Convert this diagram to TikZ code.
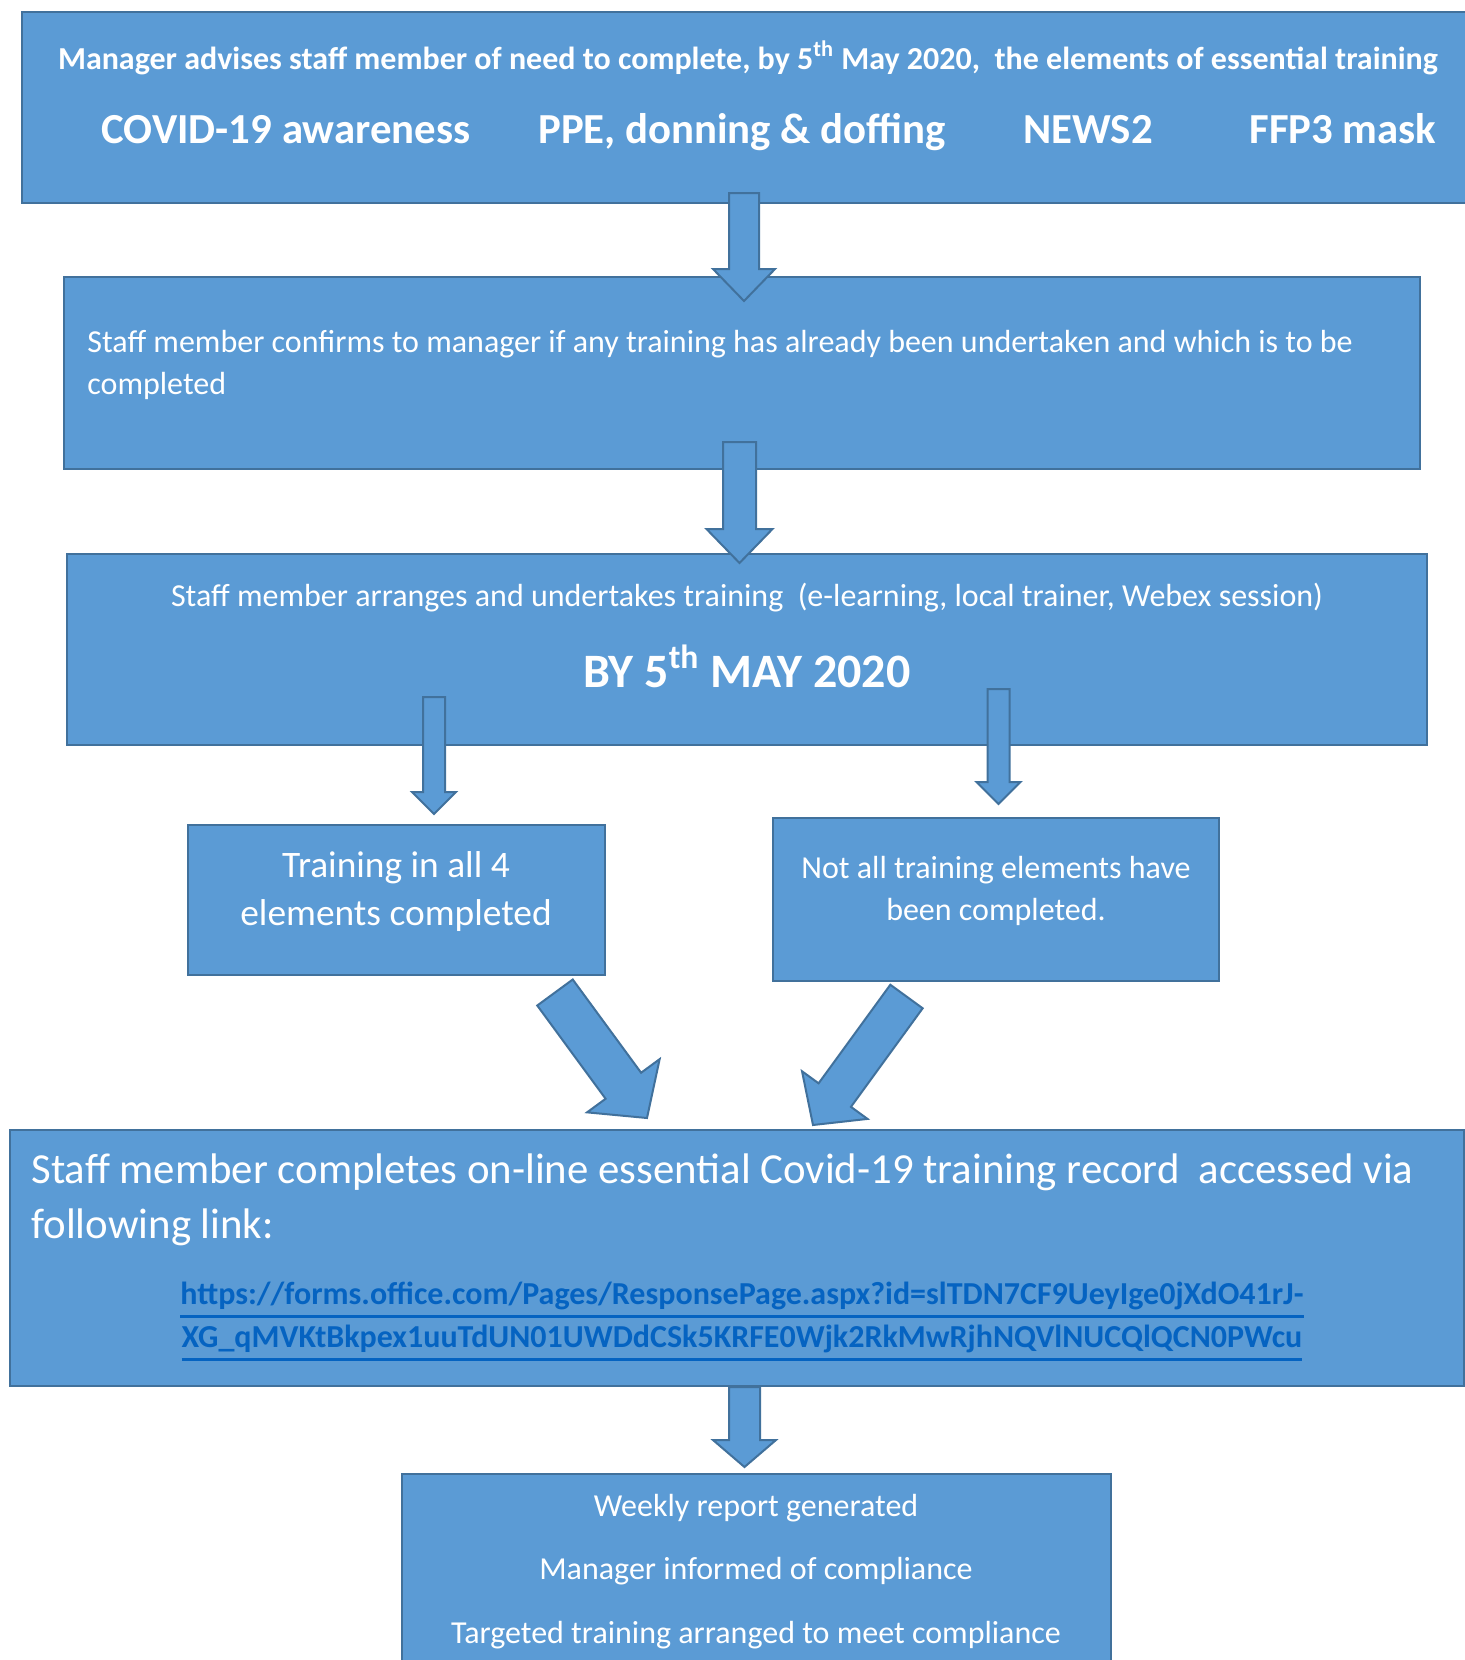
\documentclass[tikz,border=0pt]{standalone}
\usepackage{fontspec}
\setmainfont{Carlito}
\usetikzlibrary{
    calc,
    fit,
    positioning
}
\definecolor{box fill}{RGB}{91,155,213}
\definecolor{box line}{RGB}{65,113,156}
\definecolor{link blue}{RGB}{5,99,193}
\tikzset{
    % Colors
    box color/.style={fill=box fill,draw=box line},
    link color/.style={text=link blue},
    %
    % Boxes and texts
    flow box/.style={box color,line width=1.25pt,inner sep=0pt},
    box text/.style={text=white,inner sep=0pt,anchor=base},
    left text/.style={box text,anchor=base west},
    %
    % Arrows
    block arrow/.style={box color,line width=1pt,line join=miter},
}
\tikzstyle{every node}=[font=\normalsize]
\newcommand{\fsz}[1]{\fontsize{#1}{#1}\selectfont}
\newcommand{\ulink}[1]{\setbox0=\hbox{#1}\rlap{\rule[-6.8pt]{\wd0}{1.3pt}}\box0}
% #1 tail, #2 tip, #3 half shaft, #4 half head, #5 head length
\newcommand{\blockarrow}[5]{%
    \coordinate (ba-h) at ($(#2)!#5!(#1)$);
    \filldraw[block arrow] ($(#1)!#3!90:(#2)$) -- ($(ba-h)!#3!90:(#2)$) -- ($(ba-h)!#4!90:(#2)$) -- (#2)
        -- ($(ba-h)!#4!-90:(#2)$) -- ($(ba-h)!#3!-90:(#2)$) -- ($(#1)!#3!-90:(#2)$) -- cycle;
}

\begin{document}
\begin{tikzpicture}[x=0.5pt,y=-0.5pt]
    \useasboundingbox (0,0) rectangle (1465,1660);
    \clip (0,0) rectangle (1465,1660);
    \fill[white] (0,0) rectangle (1465,1660);

    % boxes
    \node[flow box,fit={(22,12) (1480,203)}] (advise) {};
    \node[flow box,fit={(64,277) (1420,469)}] (confirm) {};
    \node[flow box,fit={(67,554) (1427,745)}] (arrange) {};
    \node[flow box,fit={(188,825) (605,975)}] (done) {};
    \node[flow box,fit={(773,818) (1219,981)}] (notdone) {};
    \node[flow box,fit={(10,1130) (1464,1386)}] (record) {};
    \node[flow box,fit={(402,1474) (1111,1690)}] (report) {};

    % texts
    \node[box text,font=\bfseries\fsz{16pt}] (advise-l1) at (748,69)
        {Manager advises staff member of need to complete, by 5\textsuperscript{th} May 2020,\ \ the elements of essential training};
    \begin{scope}[every node/.style={box text,font=\bfseries\fsz{21.4pt}}]
        \node (covid) at (286,143) {COVID-19 awareness};
        \node (ppe) at (742,143) {PPE, donning \& doffing};
        \node (news) at (1088,143) {NEWS2};
        \node (ffp) at (1343,143) {FFP3 mask};
    \end{scope}
    \node[left text,font=\fsz{16pt}] (confirm-l1) at (87,352)
        {Staff member confirms to manager if any training has already been undertaken and which is to be};
    \node[left text,font=\fsz{16pt}] (confirm-l2) at (87,394) {completed};
    \node[box text,font=\fsz{16pt}] (arrange-l1) at (747,606)
        {Staff member arranges and undertakes training\ \ (e-learning, local trainer, Webex session)};
    \node[box text,font=\bfseries\fsz{24pt}] (arrange-l2) at (747,687) {BY 5\textsuperscript{th} MAY 2020};
    \node[box text,font=\fsz{18.7pt}] (done-l1) at (396,877) {Training in all 4};
    \node[box text,font=\fsz{18.7pt}] (done-l2) at (396,925) {elements completed};
    \node[box text,font=\fsz{16pt}] (notdone-l1) at (996,878) {Not all training elements have};
    \node[box text,font=\fsz{16pt}] (notdone-l2) at (996,920) {been completed.};
    \node[left text,font=\fsz{21.4pt}] (record-l1) at (31,1183)
        {Staff member completes on-line essential Covid-19 training record\ \ accessed via};
    \node[left text,font=\fsz{21.4pt}] (record-l2) at (31,1238) {following link:};
    \begin{scope}[every node/.style={box text,link color,font=\bfseries\fsz{16pt}}]
        \node (link-l1) at (742,1304) {\ulink{https://forms.office.com/Pages/ResponsePage.aspx?id=slTDN7CF9UeyIge0jXdO41rJ-}};
        \node (link-l2) at (742,1347) {\ulink{XG\_qMVKtBkpex1uuTdUN01UWDdCSk5KRFE0Wjk2RkMwRjhNQVlNUCQlQCN0PWcu}};
    \end{scope}
    \node[box text,font=\fsz{16pt}] (report-l1) at (756,1516) {Weekly report generated};
    \node[box text,font=\fsz{16pt}] (report-l2) at (756,1579) {Manager informed of compliance};
    \node[box text,font=\fsz{16pt}] (report-l3) at (756,1643) {Targeted training arranged to meet compliance};

    % arrows
    \coordinate (a1s) at (744,193);   \coordinate (a1e) at (744,301);
    \coordinate (a2s) at (739.5,442); \coordinate (a2e) at (739.5,563);
    \coordinate (a3s) at (434,697);   \coordinate (a3e) at (434,814);
    \coordinate (a4s) at (998.5,689); \coordinate (a4e) at (998.5,804);
    \coordinate (a5s) at (555,992.5); \coordinate (a5e) at (647,1118);
    \coordinate (a6s) at (906.5,996.5); \coordinate (a6e) at (813,1125);
    \coordinate (a7s) at (744.5,1387); \coordinate (a7e) at (744.5,1467);
    \blockarrow{a1s}{a1e}{7.5pt}{15.5pt}{16pt}
    \blockarrow{a2s}{a2e}{8.25pt}{16.5pt}{17pt}
    \blockarrow{a3s}{a3e}{5.5pt}{11pt}{11pt}
    \blockarrow{a4s}{a4e}{5.5pt}{11pt}{11pt}
    \blockarrow{a5s}{a5e}{11pt}{22.5pt}{20pt}
    \blockarrow{a6s}{a6e}{10pt}{20.25pt}{18.5pt}
    \blockarrow{a7s}{a7e}{7.75pt}{15.75pt}{13.5pt}
\end{tikzpicture}
\end{document}
